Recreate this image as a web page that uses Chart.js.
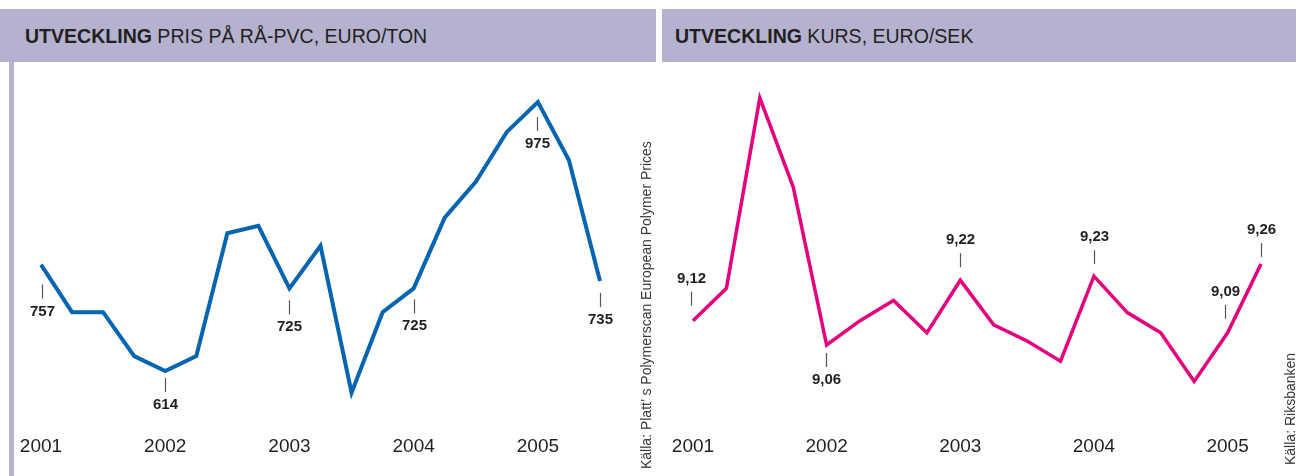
<!DOCTYPE html>
<html>
<head>
<meta charset="utf-8">
<script src="https://cdn.jsdelivr.net/npm/chart.js@4.4.1/dist/chart.umd.min.js"></script>
<style>
  body { margin: 0; width: 1296px; height: 476px; background: #fff; position: relative; overflow: hidden;
         font-family: "Liberation Sans", Arial, sans-serif; }
  .head { position: absolute; top: 9px; height: 53px; line-height: 53px; background: #b4b2cf;
          color: #231f20; font-size: 21px; box-sizing: border-box; white-space: nowrap; }
  .head span { display: inline-block; transform: scaleX(0.93); transform-origin: 0 50%; }
  #headL { left: 0; width: 656px; padding-left: 25px; }
  #headR { left: 662px; width: 634px; padding-left: 13px; }
  #barL { position: absolute; left: 9px; top: 62px; width: 5px; height: 414px; background: #b4b2cf; }
  canvas { position: absolute; top: 62px; display: block; }
  #pvc { left: 0; }
  #sek { left: 662px; }
  .src { position: absolute; transform-origin: 0 0; transform: rotate(-90deg); font-size: 14px;
         line-height: 14px; color: #3a3a3a; white-space: nowrap; }
</style>
</head>
<body>
<div class="head" id="headL"><span><b>UTVECKLING</b> PRIS PÅ RÅ-PVC, EURO/TON</span></div>
<div class="head" id="headR"><span><b>UTVECKLING</b> KURS, EURO/SEK</span></div>
<div id="barL"></div>
<canvas id="pvc" width="655" height="414"></canvas>
<canvas id="sek" width="634" height="414"></canvas>
<div class="src" style="left:639px; top:469px;">Källa: Platt’ s Polymerscan European Polymer Prices</div>
<div class="src" style="left:1283px; top:465px;">Källa: Riksbanken</div>

<script>
// quarterly values, 2001 K1 onwards
const pvcLabels = ['2001', '', '', '', '2002', '', '', '', '2003', '', '', '', '2004', '', '', '', '2005', '', ''];
const pvcPrice = [757, 693, 693, 634, 614, 634, 799, 809, 725, 782, 585, 693, 725, 820, 868, 935, 975, 897, 735];
const pvcNoted = [0, 4, 8, 12, 16, 18];

const sekLabels = ['2001', '', '', '', '2002', '', '', '', '2003', '', '', '', '2004', '', '', '', '2005', ''];
const sekRate = [9.12, 9.20, 9.67, 9.45, 9.06, 9.12, 9.17, 9.09, 9.22, 9.11, 9.07, 9.02, 9.23, 9.14, 9.09, 8.97, 9.09, 9.26];
const sekNoted = [0, 4, 8, 12, 16, 17];

// where each value note sits relative to its point
const pvcNoteStyle = [
  { side: 'below', gap: 20, dx: 1 }, { side: 'below', gap: 7 }, { side: 'below', gap: 12 },
  { side: 'below', gap: 11 }, { side: 'below', gap: 15, dx: -1 }, { side: 'below', gap: 12 }
];
const sekNoteStyle = [
  { side: 'above', gap: 15, dx: -2 }, { side: 'below', gap: 8, dx: -1 }, { side: 'above', gap: 13 },
  { side: 'above', gap: 12 }, { side: 'above', gap: 14, dx: -3 }, { side: 'above', gap: 7 }
];

const FONT = '"Liberation Sans", Arial, sans-serif';

const valueNotes = {
  id: 'valueNotes',
  afterDatasetsDraw(chart, args, opts) {
    const ctx = chart.ctx;
    const pts = chart.getDatasetMeta(0).data;
    const vals = chart.data.datasets[0].data;
    ctx.save();
    ctx.font = 'bold 15px ' + FONT;
    ctx.fillStyle = '#231f20';
    ctx.textAlign = 'center';
    ctx.textBaseline = 'alphabetic';
    opts.idx.forEach((i, k) => {
      const st = opts.style[k];
      const p = pts[i];
      const x = Math.round(p.x + (st.dx || 0)) + 0.5;
      const dir = st.side === 'below' ? 1 : -1;
      const t0 = p.y + dir * st.gap;
      const t1 = t0 + dir * 14;
      ctx.strokeStyle = '#555';
      ctx.lineWidth = 1.2;
      ctx.beginPath();
      ctx.moveTo(x, t0);
      ctx.lineTo(x, t1);
      ctx.stroke();
      ctx.fillText(opts.format(vals[i]), x, dir > 0 ? t1 + 17 : t1 - 9);
    });
    ctx.restore();
  }
};

const makeChart = (el, labels, values, color, width, yMin, yMax, pad, axisH, labelLine, idx, style, format) =>
  new Chart(el, {
    type: 'line',
    data: {
      labels: labels,
      datasets: [{
        data: values,
        borderColor: color,
        borderWidth: width,
        borderJoinStyle: 'miter',
        borderCapStyle: 'butt',
        pointRadius: 0,
        tension: 0,
        fill: false
      }]
    },
    options: {
      responsive: false,
      animation: false,
      layout: { padding: pad },
      plugins: {
        legend: { display: false },
        tooltip: { enabled: false },
        valueNotes: { idx: idx, style: style, format: format }
      },
      scales: {
        x: {
          type: 'category',
          offset: false,
          grid: { display: false, drawTicks: false },
          border: { display: false },
          ticks: {
            autoSkip: false,
            maxRotation: 0,
            padding: 0,
            color: '#231f20',
            font: { family: FONT, size: 19, lineHeight: labelLine }
          },
          afterFit: (axis) => { axis.height = axisH; }
        },
        y: { display: false, min: yMin, max: yMax }
      }
    },
    plugins: [valueNotes]
  });

makeChart(document.getElementById('pvc'), pvcLabels, pvcPrice, '#0565b0', 4, 550, 990,
  { top: 28.95, left: 41, right: 55, bottom: 0 }, 57.25, '56.5px',
  pvcNoted, pvcNoteStyle, (v) => String(v));

makeChart(document.getElementById('sek'), sekLabels, sekRate, '#e5007d', 3.5, 8.9, 9.72,
  { top: 15.7, left: 31, right: 35, bottom: 0 }, 66.2, '74.4px',
  sekNoted, sekNoteStyle, (v) => v.toFixed(2).replace('.', ','));
</script>
</body>
</html>
